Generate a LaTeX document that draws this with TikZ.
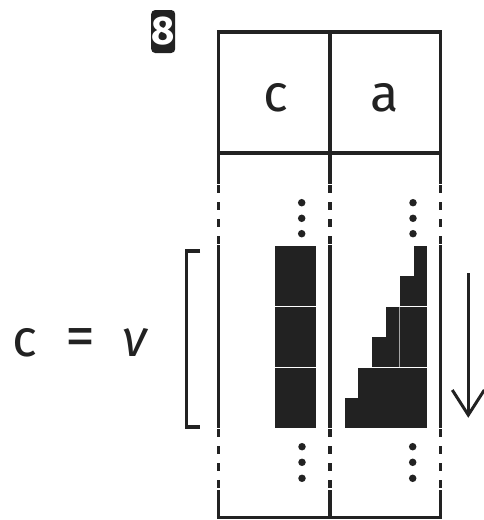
\documentclass[tikz,border=0pt]{standalone}
\usepackage{fontspec}
\setmainfont{Fira Sans}
\definecolor{ink}{HTML}{222222}
\begin{document}
\begin{tikzpicture}[x=1pt,y=-1pt,
  grid/.style={line width=3.4pt, draw=ink},
  dashgrid/.style={line width=3.4pt, draw=ink, dash pattern=on 8pt off 9pt},
  blk/.style={fill=ink, draw=white, line width=0.8pt},
  dotc/.style={circle, fill=ink, inner sep=0pt, minimum size=7.5pt},
  big/.style={font=\fontsize{52}{60}\selectfont, text=ink, inner sep=0pt, anchor=base},
]
\useasboundingbox (0,0) rectangle (483,520);

% table verticals
\foreach \x in {218.5,330,440.5}{
  \draw[grid] (\x,32) -- (\x,184);
  \draw[dashgrid] (\x,185) -- (\x,245);
  \draw[grid] (\x,245) -- (\x,428);
  \draw[dashgrid] (\x,429) -- (\x,490);
  \draw[grid] (\x,490) -- (\x,517.5);
}
% table horizontals
\draw[grid] (216.8,32) -- (442.2,32);
\draw[grid] (216.8,153) -- (442.2,153);
\draw[grid] (216.8,517.5) -- (442.2,517.5);

% header labels
\node[big] (hc) at (275.5,111) {c};
\node[big] (ha) at (384.5,111) {a};

% left column blocks
\draw[blk] (274,245) rectangle (316,306);
\draw[blk] (274,306) rectangle (316,367);
\draw[blk] (274,367) rectangle (316,428);

% right column staircase
\draw[blk] (413,245) -- (427,245) -- (427,306) -- (399,306) -- (399,275.7) -- (413,275.7) -- cycle;
\draw[blk] (385,306) -- (427,306) -- (427,367) -- (371.7,367) -- (371.7,336.7) -- (385,336.7) -- cycle;
\draw[blk] (357.7,367) -- (427,367) -- (427,428) -- (344,428) -- (344,397.7) -- (357.7,397.7) -- cycle;
\draw[draw=gray!70, line width=0.6pt] (399,306.5) -- (399,366.5);

% dots
\foreach \y [count=\i] in {202.7,218.3,233.7}{
  \node[dotc] (dlt\i) at (301.7,\y) {};
  \node[dotc] (drt\i) at (413,\y) {};
}
\foreach \y [count=\i] in {446.7,462.3,478.3}{
  \node[dotc] (dlb\i) at (302,\y) {};
  \node[dotc] (drb\i) at (412.7,\y) {};
}

% bracket
\draw[line width=3.4pt, draw=ink, line join=miter] (200,251) -- (186.7,251) -- (186.7,427) -- (200,427);

% arrow
\coordinate (as) at (468.3,273);
\coordinate (ae) at (468.3,415);
\draw[line width=3pt, draw=ink] (as) -- (ae);
\draw[line width=3pt, draw=ink, line join=miter] ([xshift=-16pt,yshift=25pt]ae) -- (ae) -- ([xshift=16pt,yshift=25pt]ae);

% equation
\node[big] (lc) at (25,356) {c};
\node[big, font=\fontsize{60}{66}\selectfont] (leq) at (80,356) {=};
\node[big] (lnu) at (136,356) {\textit{ν}};

% badge
\node[fill=ink, rounded corners=4pt, minimum width=24pt, minimum height=43pt, inner sep=0pt, text=white, font=\fontsize{40}{44}\selectfont\bfseries] (badge) at (163.2,31.5) {8};
\end{tikzpicture}
\end{document}
